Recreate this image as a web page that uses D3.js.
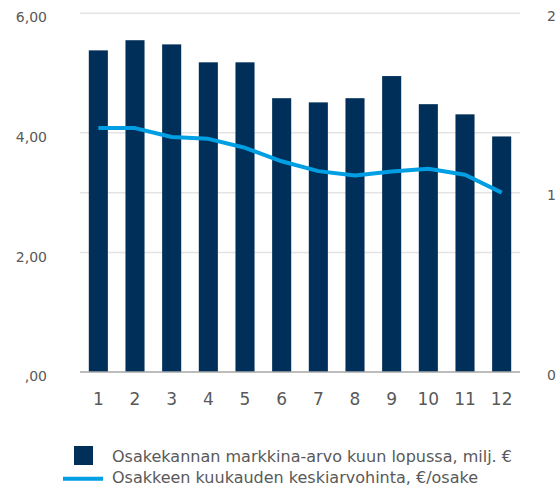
<!DOCTYPE html>
<html>
<head>
<meta charset="utf-8">
<script src="https://cdn.jsdelivr.net/npm/d3@7/dist/d3.min.js"></script>
<style>
  html, body { margin: 0; padding: 0; background: #fff; }
  svg { display: block; font-family: "DejaVu Sans", Verdana, sans-serif; }
</style>
</head>
<body>
<svg id="chart" width="560" height="486"></svg>
<script>
// Month numbers on the x axis
const months = ["1", "2", "3", "4", "5", "6", "7", "8", "9", "10", "11", "12"];
// Market value of the share capital at month end, million €
const marketValue = [5.38, 5.55, 5.48, 5.18, 5.18, 4.58, 4.51, 4.58, 4.95, 4.48, 4.31, 3.94];
// Average monthly share price, €/share
const avgPrice = [1.36, 1.36, 1.31, 1.30, 1.25, 1.175, 1.12, 1.096, 1.118, 1.133, 1.10, 1.00];

// Axis ticks and their printed labels
const leftTicks = [0, 2, 4, 6];
const leftTickLabels = [",00", "2,00", "4,00", "6,00"];
const rightTicks = [0, 1, 2];
const rightTickLabels = ["0", "1", "2"];

const legendLabels = [
  "Osakekannan markkina-arvo kuun lopussa, milj. €",
  "Osakkeen kuukauden keskiarvohinta, €/osake"
];

const barColor = "#00305a";
const lineColor = "#009fe3";
const textColor = "#595959";

const svg = d3.select("#chart");
const plot = { left: 80, right: 520, top: 13.3, bottom: 372 };

const x = d3.scaleBand()
  .domain(months)
  .range([plot.left, plot.right])
  .paddingInner(0.48)
  .paddingOuter(0.24);

const yLeft = d3.scaleLinear().domain([0, 6]).range([plot.bottom, plot.top]);
const yRight = d3.scaleLinear().domain([0, 2]).range([plot.bottom, plot.top]);

// Gridlines: left-axis ticks plus the right-axis tick at 1
const grid = svg.append("g");
grid.selectAll("line.gl")
  .data(leftTicks.filter(d => d > 0))
  .join("line")
  .attr("x1", plot.left).attr("x2", plot.right)
  .attr("y1", d => yLeft(d)).attr("y2", d => yLeft(d))
  .attr("stroke", "#e3e3e3").attr("stroke-width", 1.5);
grid.selectAll("line.gr")
  .data(rightTicks.filter(d => d === 1))
  .join("line")
  .attr("x1", plot.left).attr("x2", plot.right)
  .attr("y1", d => yRight(d)).attr("y2", d => yRight(d))
  .attr("stroke", "#e3e3e3").attr("stroke-width", 1.5);

// Bars: market value
svg.append("g").selectAll("rect")
  .data(marketValue)
  .join("rect")
  .attr("x", (d, i) => x(months[i]))
  .attr("y", d => yLeft(d))
  .attr("width", x.bandwidth())
  .attr("height", d => yLeft(0) - yLeft(d))
  .attr("fill", barColor);

// Baseline
svg.append("line")
  .attr("x1", plot.left).attr("x2", plot.right)
  .attr("y1", yLeft(0)).attr("y2", yLeft(0))
  .attr("stroke", "#a6a6a6").attr("stroke-width", 1.5);

// Line: average share price on the right axis
const line = d3.line()
  .x((d, i) => x(months[i]) + x.bandwidth() / 2)
  .y(d => yRight(d));
svg.append("path")
  .datum(avgPrice)
  .attr("d", line)
  .attr("fill", "none")
  .attr("stroke", lineColor)
  .attr("stroke-width", 4)
  .attr("stroke-linejoin", "round");

// Left axis
const leftAxis = svg.append("g")
  .attr("transform", `translate(${plot.left},0)`)
  .call(d3.axisLeft(yLeft).tickValues(leftTicks)
    .tickFormat((d, i) => leftTickLabels[i]).tickSize(0).tickPadding(33));
leftAxis.select(".domain").remove();
leftAxis.selectAll("text")
  .attr("font-size", 14).attr("fill", textColor)
  .attr("font-family", "DejaVu Sans, sans-serif")
  .attr("dy", "0.62em");

// Right axis
const rightAxis = svg.append("g")
  .attr("transform", `translate(${plot.right},0)`)
  .call(d3.axisRight(yRight).tickValues(rightTicks)
    .tickFormat((d, i) => rightTickLabels[i]).tickSize(0).tickPadding(27));
rightAxis.select(".domain").remove();
rightAxis.selectAll("text")
  .attr("font-size", 14).attr("fill", textColor)
  .attr("font-family", "DejaVu Sans, sans-serif")
  .attr("dy", "0.5em");

// Bottom axis (month numbers)
const bottomAxis = svg.append("g")
  .attr("transform", `translate(0,${plot.bottom})`)
  .call(d3.axisBottom(x).tickSize(0).tickPadding(21));
bottomAxis.select(".domain").remove();
bottomAxis.selectAll("text")
  .attr("font-size", 17).attr("fill", textColor)
  .attr("font-family", "DejaVu Sans, sans-serif");

// Legend
const legend = svg.append("g");
legend.append("rect")
  .attr("x", 74).attr("y", 446).attr("width", 19).attr("height", 19)
  .attr("fill", barColor);
legend.append("line")
  .attr("x1", 63).attr("x2", 103).attr("y1", 478.7).attr("y2", 478.7)
  .attr("stroke", lineColor).attr("stroke-width", 4);
legend.selectAll("text")
  .data(legendLabels)
  .join("text")
  .attr("x", 112)
  .attr("y", (d, i) => 461.6 + i * 21.6)
  .attr("font-size", 16)
  .attr("fill", textColor)
  .attr("textLength", (d, i) => i === 0 ? 400 : 366)
  .attr("lengthAdjust", "spacingAndGlyphs")
  .text(d => d);
</script>
</body>
</html>
